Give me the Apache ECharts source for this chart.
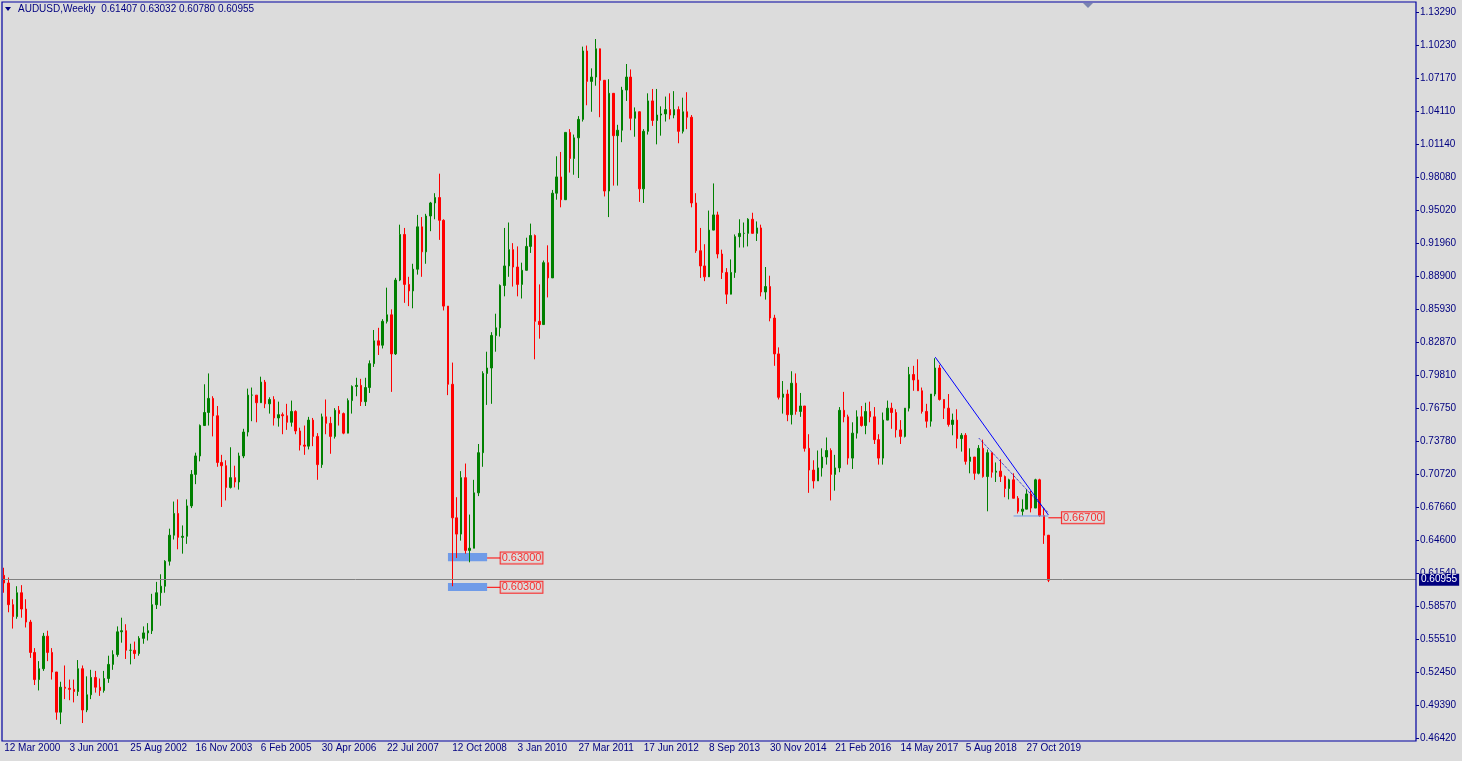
<!DOCTYPE html>
<html>
<head>
<meta charset="utf-8">
<script src="https://cdn.jsdelivr.net/npm/echarts@6/dist/echarts.min.js"></script>
<style>
  html, body { margin: 0; padding: 0; background: #dcdcdc; }
  #chart { width: 1462px; height: 761px; }
</style>
</head>
<body>
<div id="chart"></div>
<script>
// monthly bars, Mar 2000 .. Mar 2020
const firstOpen = 0.614;
const closes = [
  .607, .587, .576, .598, .583, .571, .543, .518, .528, .558,
  .543, .525, .488, .511, .510, .509, .507, .528, .490, .504, .520, .511,
  .508, .519, .532, .541, .562, .563, .545, .545, .542, .556, .561, .563,
  .587, .598, .604, .627, .651, .671, .649, .650, .678, .707, .724, .752,
  .764, .777, .761, .718, .715, .695, .704, .700, .724, .746, .780, .780,
  .773, .792, .772, .776, .759, .762, .761, .755, .765, .747, .734, .733,
  .757, .742, .716, .760, .754, .742, .766, .763, .745, .775, .788, .789,
  .774, .787, .809, .830, .826, .848, .854, .818, .886, .928, .882, .876,
  .896, .935, .912, .945, .957, .962, .941, .862, .790, .667, .652, .704,
  .637, .639, .690, .727, .800, .805, .835, .842, .881, .899, .914, .898,
  .882, .895, .917, .927, .848, .845, .902, .888, .966, .981, .960, 1.022,
  .998, 1.017, 1.034, 1.097, 1.069, 1.073, 1.099, 1.070, .968, 1.058, 1.019, 1.024,
  1.061, 1.073, 1.035, 1.041, .970, 1.023, 1.051, 1.033, 1.038, 1.039, 1.043, 1.038,
  1.043, 1.023, 1.041, 1.036, .957, .913, .899, .889, .932, .946, .910, .893,
  .873, .893, .926, .929, .929, .942, .929, .934, .875, .880, .851, .818,
  .778, .781, .762, .791, .765, .770, .731, .711, .701, .713, .723, .729,
  .707, .713, .766, .760, .722, .745, .760, .752, .765, .760, .739, .722,
  .757, .768, .764, .748, .742, .768, .799, .794, .784, .765, .756, .781,
  .805, .776, .768, .753, .757, .740, .743, .719, .723, .708, .731, .705,
  .727, .709, .710, .705, .694, .702, .685, .673, .675, .689, .676, .702,
  .669, .651, .6096
];
const highs = [
  .621, .612, .592, .604, .605, .592, .573, .547, .535, .561,
  .563, .547, .525, .516, .531, .518, .518, .536, .531, .521, .527, .526,
  .519, .526, .540, .545, .567, .575, .569, .551, .553, .558, .567, .570,
  .597, .608, .615, .628, .657, .682, .684, .660, .684, .711, .727, .753,
  .790, .800, .779, .770, .725, .720, .732, .715, .727, .749, .786, .787,
  .780, .797, .794, .778, .779, .774, .764, .772, .775, .766, .750, .752,
  .760, .759, .745, .763, .776, .760, .768, .770, .764, .777, .789, .796,
  .795, .796, .812, .840, .842, .850, .879, .859, .888, .937, .934, .889,
  .901, .946, .944, .947, .958, .966, .984, .942, .862, .810, .686, .710,
  .717, .670, .702, .735, .802, .820, .838, .855, .882, .934, .939, .920,
  .917, .902, .925, .938, .928, .882, .904, .918, .969, 1.000, 1.004, 1.022,
  1.025, 1.020, 1.037, 1.101, 1.102, 1.081, 1.108, 1.080, 1.055, 1.071, 1.048, 1.029,
  1.064, 1.085, 1.080, 1.045, 1.039, 1.025, 1.058, 1.062, 1.062, 1.046, 1.055, 1.058,
  1.060, 1.046, 1.054, 1.059, 1.038, .966, .934, .919, .950, .975, .949, .914,
  .897, .905, .928, .942, .939, .943, .948, .940, .937, .898, .890, .854,
  .824, .793, .785, .802, .800, .782, .767, .744, .720, .729, .731, .741,
  .731, .725, .769, .783, .762, .755, .766, .770, .773, .774, .769, .744,
  .764, .775, .773, .767, .757, .768, .806, .807, .813, .787, .772, .781,
  .814, .808, .776, .781, .763, .767, .745, .745, .731, .720, .734, .739,
  .730, .727, .718, .721, .706, .703, .708, .687, .684, .693, .692, .703,
  .703, .676, .632
];
const lows = [
  .598, .580, .565, .574, .575, .566, .538, .513, .508, .526,
  .535, .518, .481, .477, .500, .499, .497, .503, .478, .488, .500, .506,
  .503, .506, .515, .527, .539, .552, .537, .532, .537, .540, .551, .554,
  .560, .583, .586, .598, .623, .647, .638, .634, .643, .676, .698, .719,
  .758, .752, .742, .714, .677, .683, .694, .695, .693, .722, .742, .756,
  .755, .773, .768, .763, .752, .751, .744, .748, .751, .744, .729, .725,
  .730, .733, .702, .713, .744, .726, .740, .752, .744, .747, .763, .779,
  .770, .770, .782, .806, .817, .823, .846, .783, .817, .885, .865, .862,
  .860, .891, .889, .901, .931, .942, .923, .858, .780, .604, .630, .646,
  .634, .626, .639, .687, .714, .771, .772, .820, .834, .871, .889, .880,
  .871, .869, .896, .911, .813, .832, .845, .870, .888, .960, .953, .961,
  .985, .983, .980, 1.032, 1.047, 1.041, 1.065, 1.036, .963, .944, .973, .973,
  1.013, 1.051, 1.024, 1.018, .958, .957, 1.020, 1.028, 1.011, 1.019, 1.032, 1.034,
  1.035, 1.012, 1.021, 1.025, .953, .911, .888, .885, .890, .939, .906, .887,
  .864, .877, .888, .916, .916, .917, .929, .922, .871, .868, .848, .807,
  .776, .763, .756, .753, .762, .760, .728, .690, .694, .701, .705, .716,
  .683, .692, .709, .755, .716, .712, .740, .751, .744, .755, .735, .716,
  .716, .758, .749, .741, .735, .741, .765, .784, .784, .763, .750, .751,
  .779, .775, .758, .751, .743, .731, .728, .716, .708, .702, .707, .704,
  .673, .704, .700, .700, .686, .684, .685, .671, .669, .675, .672, .676,
  .668, .643, .6078
];
const totalSlots = 325;
const xLabels = ["12 Mar 2000", "3 Jun 2001", "25 Aug 2002", "16 Nov 2003", "6 Feb 2005", "30 Apr 2006",
  "22 Jul 2007", "12 Oct 2008", "3 Jan 2010", "27 Mar 2011", "17 Jun 2012", "8 Sep 2013",
  "30 Nov 2014", "21 Feb 2016", "14 May 2017", "5 Aug 2018", "27 Oct 2019"];
const xLabelIdx = [0, 15, 29, 44, 59, 73, 88, 103, 118, 132, 147, 162, 176, 191, 206, 221, 235];
const yTicks = ["0.46420", "0.49390", "0.52450", "0.55510", "0.58570", "0.61540", "0.64600", "0.67660",
  "0.70720", "0.73780", "0.76750", "0.79810", "0.82870", "0.85930", "0.88900", "0.91960",
  "0.95020", "0.98080", "1.01140", "1.04110", "1.07170", "1.10230", "1.13290"];
const yMin = 0.4642, yMax = 1.1329;
const lastPrice = 0.60955;
const title = "AUDUSD,Weekly  0.61407 0.63032 0.60780 0.60955";
const trend1 = [[214, 0.815], [240, 0.6696]];
const trend2 = [[224.3, 0.7405], [239.5, 0.6715]];
const floorLine = [[232.4, 0.6687], [240.4, 0.6687]];
const boxes = [[[101.8, 0.6345], [111, 0.6271]], [[101.8, 0.6069], [111, 0.5996]]];
const tags = [{ from: [111, 0.630], at: 113.7, text: "0.63000" }, { from: [111, 0.603], at: 113.7, text: "0.60300" },
  { from: [240.3, 0.667], at: 242.5, text: "0.66700" }];

const cats = [];
for (let i = 0; i < totalSlots; i++) cats.push(String(i));
const candles = closes.map((c, i) => [i === 0 ? firstOpen : closes[i - 1], c, lows[i], highs[i]]);
const yStep = (yMax - yMin) / (yTicks.length - 1);

const chart = echarts.init(document.getElementById("chart"));
const font = "Liberation Sans";
const navy = "#000080";

const series = [
  {
    type: "candlestick", data: candles, barWidth: 2,
    itemStyle: { color: "#008000", color0: "#ff0000", borderColor: "#008000", borderColor0: "#ff0000", borderWidth: 1 },
    markLine: {
      silent: true, symbol: "none",
      lineStyle: { color: "#808080", type: "solid", width: 1 },
      label: { position: "end", formatter: lastPrice.toFixed(5), color: "#fff", backgroundColor: navy,
        fontFamily: font, fontSize: 10, padding: [1, 2], distance: 3 },
      data: [{ yAxis: lastPrice }]
    },
    markArea: {
      silent: true, itemStyle: { color: "#6f9be8" },
      data: boxes.map((b) => [{ coord: b[0] }, { coord: b[1] }])
    }
  },
  { type: "line", data: trend1, symbol: "none", lineStyle: { color: "#0000ff", width: 1 }, silent: true },
  { type: "line", data: trend2, symbol: "none", lineStyle: { color: "#0000cc", width: 1, type: "dotted" }, silent: true },
  { type: "line", data: floorLine, symbol: "none", lineStyle: { color: "#6f9be8", width: 1 }, silent: true }
];
tags.forEach((t) => {
  series.push({ type: "line", data: [t.from, [t.at, t.from[1]]], symbol: "none", lineStyle: { color: "#ff0000", width: 1 }, silent: true });
  series.push({
    type: "scatter", data: [[t.at, t.from[1]]], symbolSize: 1, itemStyle: { color: "#ff0000" }, silent: true,
    label: { show: true, position: "right", distance: 0, formatter: t.text, color: "#ff0000", fontFamily: font, fontSize: 11,
      borderColor: "#ff0000", borderWidth: 1, padding: [0, 1], backgroundColor: "#dcdcdc" }
  });
});

chart.setOption({
  backgroundColor: "#dcdcdc",
  animation: false,
  grid: { left: 2, right: 46, top: 12, bottom: 23 },
  xAxis: {
    type: "category", data: cats, boundaryGap: true,
    axisLine: { show: false }, axisTick: { show: false }, splitLine: { show: false },
    axisLabel: {
      interval: (i) => xLabelIdx.includes(i), align: "left", margin: 5,
      formatter: (v, i) => xLabels[xLabelIdx.indexOf(i)] || "",
      color: navy, fontFamily: font, fontSize: 10
    }
  },
  yAxis: {
    type: "value", position: "right", min: yMin, max: yMax, interval: yStep,
    axisLine: { show: false }, splitLine: { show: false },
    axisTick: { show: true, length: 3, lineStyle: { color: navy } },
    axisLabel: {
      margin: 4, color: navy, fontFamily: font, fontSize: 10,
      formatter: (v) => yTicks[Math.round((v - yMin) / yStep)] || ""
    }
  },
  graphic: [
    { type: "rect", shape: { x: 2, y: 2, width: 1414, height: 739 }, style: { fill: null, stroke: "#0000a0", lineWidth: 1.2 }, silent: true, z: 10 },
    { type: "polygon", shape: { points: [[5, 7], [11, 7], [8, 11]] }, style: { fill: navy }, silent: true },
    { type: "text", left: 18, top: 4, style: { text: title, fill: navy, font: "10px " + font }, silent: true },
    { type: "polygon", shape: { points: [[1083, 3], [1093, 3], [1088, 8]] }, style: { fill: "#7a84b0" }, silent: true }
  ],
  series: series
});
</script>
</body>
</html>
